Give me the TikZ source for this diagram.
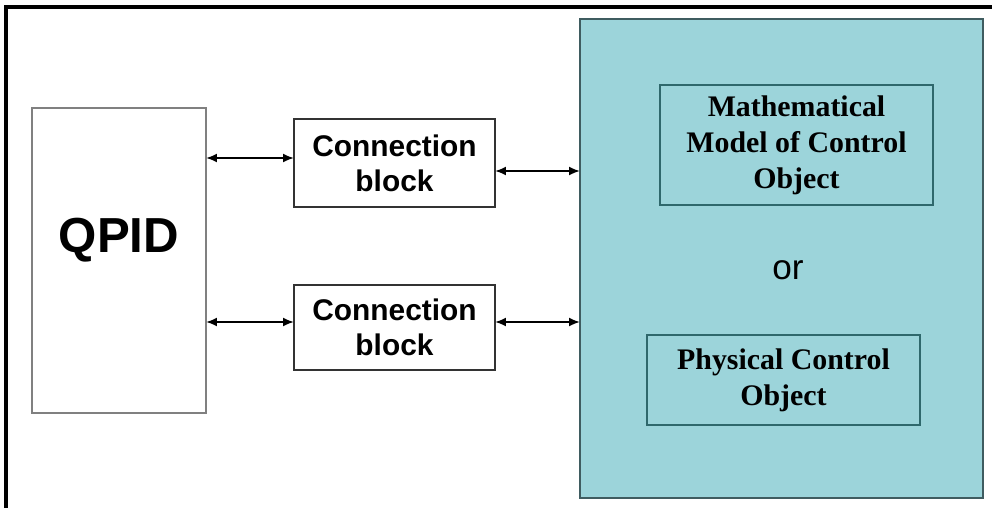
\documentclass[tikz,border=0pt]{standalone}
\usepackage{fontspec}
\setmainfont{Liberation Serif}
\setsansfont{Liberation Sans}
\usetikzlibrary{arrows.meta}

\definecolor{objfill}{HTML}{9CD4DA}
\definecolor{objline}{HTML}{3F5C60}
\definecolor{subline}{HTML}{2F686C}

\begin{document}
\begin{tikzpicture}[x=0.02cm,y=-0.02cm,
    box/.style={draw,rectangle,line width=1.2pt,align=center,inner sep=0pt,outer sep=0pt},
    blockbox/.style={box,draw=black!80,font=\sffamily\bfseries\fontsize{17}{20}\selectfont},
    objtext/.style={box,draw=subline,font=\bfseries\fontsize{17}{20.4}\selectfont},
    arr/.style={{Latex[length=0.22cm,width=0.18cm]}-{Latex[length=0.22cm,width=0.18cm]},line width=1.1pt}]
\useasboundingbox (0,0) rectangle (992,508);
% frame
\draw[line width=1.8pt] (992,7) -- (6,7) -- (6,508);

% left side
\node[box,draw=black!50,minimum width=3.48cm,minimum height=6.1cm,
      label={[font=\sffamily\bfseries\fontsize{28}{32}\selectfont,yshift=0.4cm]center:QPID}] (qpid) at (119,260.5) {};
\node[blockbox,minimum width=4.02cm,minimum height=1.76cm] (conn1) at (394.5,163) {Connection\\block};
\node[blockbox,minimum width=4.02cm,minimum height=1.7cm] (conn2) at (394.5,327.5) {Connection\\block};

% control object
\node[box,draw=objline,fill=objfill,minimum width=8.06cm,minimum height=9.58cm] (ctrl) at (781.5,258.5) {};
\node[objtext,minimum width=5.46cm,minimum height=2.4cm] (model) at (796.5,145)
    {Mathematical\\Model of Control\\Object};
\node[font=\sffamily\fontsize{20}{24}\selectfont] (or) at (788,270) {or};
\node[objtext,minimum width=5.46cm,minimum height=1.8cm] (phys) at (783.5,380)
    {\raisebox{-2pt}{Physical Control}\\\raisebox{-2pt}{Object}};

% links
\draw[arr] ([yshift=0.1cm]conn1.west) -- ([yshift=0.1cm]conn1.west -| qpid.east);
\draw[arr] ([yshift=-0.16cm]conn1.east) -- ([yshift=-0.16cm]conn1.east -| ctrl.west);
\draw[arr] ([yshift=0.11cm]conn2.west) -- ([yshift=0.11cm]conn2.west -| qpid.east);
\draw[arr] ([yshift=0.11cm]conn2.east) -- ([yshift=0.11cm]conn2.east -| ctrl.west);
\end{tikzpicture}
\end{document}
